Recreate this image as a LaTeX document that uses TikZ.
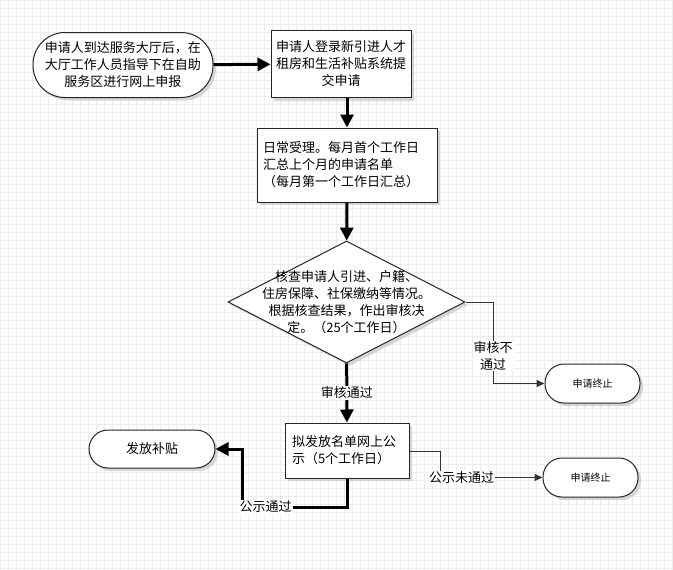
\documentclass[tikz,border=0pt]{standalone}
\usepackage{fontspec}
\setmainfont{Noto Sans CJK SC}
\usetikzlibrary{arrows.meta,shapes.geometric,shadows,positioning}

\begin{document}
\begin{tikzpicture}[x=1pt,y=-1pt,
	font=\fontsize{13}{17}\selectfont,
	shade box/.style={drop shadow={shadow xshift=3pt,shadow yshift=-3pt,fill=gray!45,opacity=.7}},
	stepbox/.style={draw=black!85,line width=1pt,fill=white,shade box,inner sep=0pt},
	terminal/.style={stepbox,rounded corners=19pt,minimum width=95pt,minimum height=39pt},
	bigarrow/.style={line width=3pt,-{Triangle[length=13pt,width=13pt]}},
	smallarrow/.style={line width=1pt,draw=black!80,-{Triangle[length=8pt,width=7pt]}},
	linelabel/.style={fill=white,inner sep=1pt,align=center}]
	% background
	\useasboundingbox (0,0) rectangle (673,570);
	\fill [white] (0,0) rectangle (673,570);
	\draw [step=8pt,black!7,line width=.5pt] (0,0) grid (673,570);

	% shapes
	\node (start) [terminal,rounded corners=32pt,minimum width=180pt,minimum height=65pt,align=center] at (123,65)
		{申请人到达服务大厅后，在\\大厅工作人员指导下在自助\\服务区进行网上申报};
	\node (login) [stepbox,minimum width=140pt,minimum height=67pt,align=center] at (341,64)
		{申请人登录新引进人才\\租房和生活补贴系统提\\交申请};
	\node (accept) [stepbox,minimum width=180pt,minimum height=74pt,text width=168pt,align=left] at (347,165)
		{日常受理。每月首个工作日\\汇总上个月的申请名单\\（每月第一个工作日汇总）};
	\node (check) [diamond,stepbox,minimum width=237pt,minimum height=122pt,
		label={[align=center]center:核查申请人引进、户籍、\\住房保障、社保缴纳等情况。\\根据核查结果，作出审核决\\定。（25个工作日）}] at (346.5,302) {};
	\node (publish) [stepbox,minimum width=124pt,minimum height=55pt,text width=110pt,align=left] at (347,450.5)
		{拟发放名单网上公\\示（5个工作日）};
	\node (grant) [terminal,minimum width=126pt,minimum height=38pt] at (152,449) {发放补贴};
	\node (stop1) [terminal,font=\fontsize{10}{12}\selectfont] at (592.5,383.5) {申请终止};
	\node (stop2) [terminal,font=\fontsize{10}{12}\selectfont] at (590.5,477.5) {申请终止};

	% connectors
	\draw [bigarrow] (start) -- (login);
	\draw [bigarrow] (login.south -| accept.north) -- (accept.north);
	\draw [bigarrow] (accept) -- (check);
	\draw [bigarrow] (check) -- (publish) node [linelabel,pos=.5] {审核通过};
	\draw [smallarrow] (check.east) -- (493,302) -- (493,383.5) -- (stop1.west);
	\node (nolabel) [linelabel] at (493,356) {审核不\\通过};
	\draw [bigarrow] (publish.south) -- (347,507) -- (242,507) -- (242,449) -- (grant.east);
	\node (yeslabel) [linelabel] at (265.5,507) {公示通过};
	\draw [smallarrow] (publish.east |- 0,451) -- (440,451) -- (440,477.5) -- (stop2.west);
	\node (publabel) [linelabel] at (461.5,477.5) {公示未通过};
\end{tikzpicture}
\end{document}
